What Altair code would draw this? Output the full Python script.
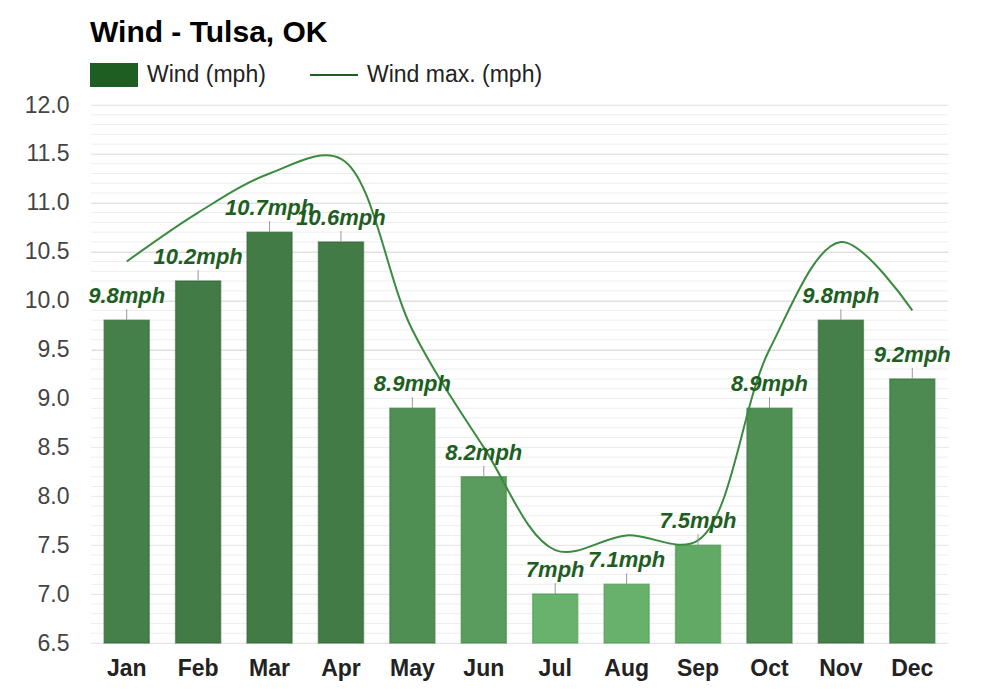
import altair as alt
import pandas as pd

months = ["Jan", "Feb", "Mar", "Apr", "May", "Jun", "Jul", "Aug", "Sep", "Oct", "Nov", "Dec"]
wind = [9.8, 10.2, 10.7, 10.6, 8.9, 8.2, 7.0, 7.1, 7.5, 8.9, 9.8, 9.2]
wind_max = [10.4, 10.9, 11.3, 11.45, 9.7, 8.5, 7.45, 7.6, 7.55, 9.5, 10.6, 9.9]
labels = ["9.8mph", "10.2mph", "10.7mph", "10.6mph", "8.9mph", "8.2mph", "7mph",
          "7.1mph", "7.5mph", "8.9mph", "9.8mph", "9.2mph"]
major_ticks = [6.5, 7.0, 7.5, 8.0, 8.5, 9.0, 9.5, 10.0, 10.5, 11.0, 11.5, 12.0]

df = pd.DataFrame({"month": months, "wind": wind, "wmax": wind_max, "label": labels})
minor_df = pd.DataFrame({"v": [round(6.5 + i * 0.1, 1) for i in range(56)]})

W, H = 857, 538
FONT = "Liberation Sans"

yscale = alt.Scale(domain=[6.5, 12.0], nice=False, zero=False)
yaxis = alt.Axis(title=None, values=major_ticks, format=".1f", labelOverlap=False,
                 labelFont=FONT, labelFontSize=23, labelColor="#444", labelPadding=22,
                 ticks=False, domain=False, grid=True, gridColor="#dedede", gridWidth=1)
xs = alt.X("month:N", sort=months)

x = alt.X("month:N", sort=months, scale=alt.Scale(paddingInner=0.37, paddingOuter=0.185),
          axis=alt.Axis(title=None, labelAngle=0, labelFont=FONT, labelFontSize=23,
                        labelFontWeight="bold", labelColor="#222", labelPadding=14,
                        ticks=False, domain=False, grid=False))

minor = alt.Chart(minor_df).mark_rule(color="#eeeeee", strokeWidth=1).encode(
    y=alt.Y("v:Q", scale=yscale, axis=yaxis))

base = alt.Chart(df)

bars = base.mark_bar(strokeWidth=1.5, strokeOpacity=0.6).encode(
    x=x, y=alt.Y("wind:Q", scale=yscale), y2=alt.datum(6.5),
    color=alt.Color("wind:Q", scale=alt.Scale(domain=[7.0, 10.0], range=["#68b36c", "#437b47"], clamp=True),
                    legend=None),
    stroke=alt.Color("wind:Q", scale=alt.Scale(domain=[7.0, 10.0], range=["#4f9a54", "#2f6433"], clamp=True),
                     legend=None),
)

line = base.mark_line(interpolate="catmull-rom", color="#3a8b3e", strokeWidth=2).encode(
    x=xs, y=alt.Y("wmax:Q", scale=yscale))

ticks = base.mark_rule(color="#999", strokeWidth=1, y2Offset=-11).encode(
    x=xs, y=alt.Y("wind:Q", scale=yscale), y2=alt.Y2("wind"))

text = base.mark_text(font=FONT, fontSize=22, fontWeight="bold", fontStyle="italic",
                      color="#1e5e22", dy=-17, baseline="alphabetic").encode(
    x=xs, y=alt.Y("wind:Q", scale=yscale), text="label:N")

title = alt.Chart(pd.DataFrame({"t": ["Wind - Tulsa, OK"]})).mark_text(
    font=FONT, fontSize=30, fontWeight="bold", color="#000", align="left", baseline="alphabetic"
).encode(x=alt.value(-1), y=alt.value(-63), text="t:N")

leg_rect = alt.Chart(pd.DataFrame({"a": [1]})).mark_rect(color="#1e5e22").encode(
    x=alt.value(-1), x2=alt.value(47), y=alt.value(-42), y2=alt.value(-18))
leg_line = alt.Chart(pd.DataFrame({"a": [1]})).mark_rule(color="#1e5e22", strokeWidth=2).encode(
    x=alt.value(219), x2=alt.value(267), y=alt.value(-30))
leg_text = alt.Chart(pd.DataFrame({"t": ["Wind (mph)", "Wind max. (mph)"], "px": [56, 276]})).mark_text(
    font=FONT, fontSize=23, color="#222", align="left", baseline="middle"
).encode(x=alt.X("px:Q", scale=None), y=alt.value(-30), text="t:N")

chart = alt.layer(minor, bars, line, ticks, text, title, leg_rect, leg_line, leg_text).properties(
    width=W, height=H,
    autosize=alt.AutoSizeParams(type="none"),
    padding={"left": 91, "top": 105, "right": 52, "bottom": 57},
    background="white",
).configure_view(stroke=None)

chart.save("out.html", embed_options={"renderer": "svg", "actions": False})
